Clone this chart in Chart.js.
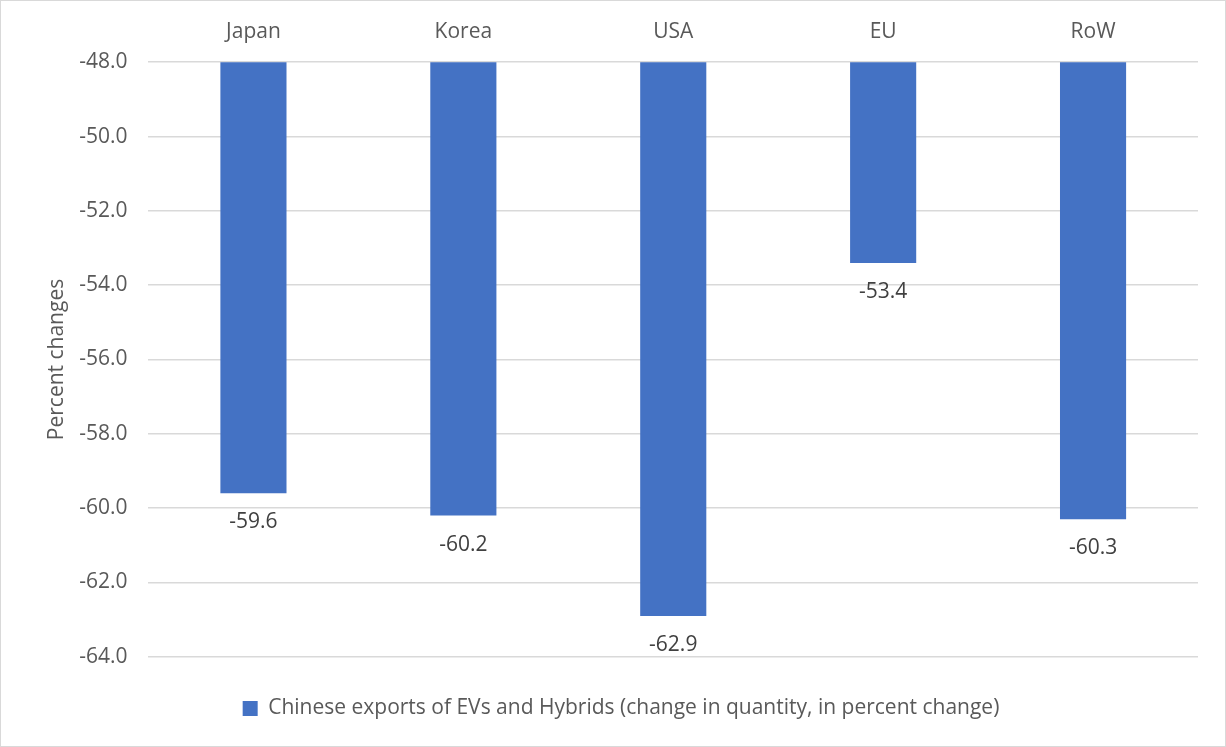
<!DOCTYPE html>
<html>
<head>
<meta charset="utf-8">
<script src="https://cdn.jsdelivr.net/npm/chart.js@4/dist/chart.umd.min.js"></script>
<style>
  body { margin: 0; background: #fff; }
  #wrap { width: 1226px; height: 747px; box-sizing: border-box; border: 1px solid #d9d9d9; }
</style>
</head>
<body>
<div id="wrap"><canvas id="chart" width="1224" height="745"></canvas></div>
<script>
var regions = ["Japan", "Korea", "USA", "EU", "RoW"]
var exportChange = [-59.6, -60.2, -62.9, -53.4, -60.3]
var seriesName = "Chinese exports of EVs and Hybrids (change in quantity, in percent change)"
var yMin = -64, yMax = -48, yStep = 2

var fontName = "'Open Sans', 'Noto Sans', sans-serif"
var fontSize = 21

// value labels under the end of each bar
var barLabels = {
  id: "barLabels",
  afterDatasetsDraw: function(chart) {
    var ctx = chart.ctx
    var meta = chart.getDatasetMeta(0)
    ctx.save()
    ctx.font = fontSize + "px " + fontName
    ctx.fillStyle = "#404040"
    ctx.textAlign = "center"
    ctx.textBaseline = "middle"
    meta.data.forEach(function(bar, i) {
      ctx.fillText(exportChange[i].toFixed(1), bar.x, bar.y + 29)
    })
    ctx.restore()
  }
}

new Chart(document.getElementById("chart"), {
  type: "bar",
  data: {
    labels: regions,
    datasets: [{
      label: seriesName,
      data: exportChange,
      backgroundColor: "#4472C4",
      categoryPercentage: 1,
      barPercentage: 0.315
    }]
  },
  options: {
    responsive: false,
    animation: false,
    layout: { padding: { left: 43, right: 27, top: 8, bottom: 17 } },
    plugins: {
      legend: {
        position: "bottom",
        title: { display: true, text: "", font: { size: 1 }, padding: { top: 20, bottom: 0 } },
        labels: {
          font: { size: fontSize, family: fontName },
          color: "#595959",
          boxWidth: 15,
          boxHeight: 15,
          padding: 20
        }
      },
      tooltip: { enabled: false }
    },
    scales: {
      x: {
        position: "top",
        grid: { display: false },
        border: { display: false },
        ticks: { font: { size: fontSize, family: fontName }, color: "#595959", padding: 10 }
      },
      y: {
        min: yMin,
        max: yMax,
        border: { display: false },
        grid: { color: "#d9d9d9", lineWidth: 1.5, drawTicks: false },
        ticks: {
          stepSize: yStep,
          font: { size: fontSize, family: fontName },
          color: "#595959",
          padding: 21,
          callback: function(v) { return v.toFixed(1) }
        },
        title: {
          display: true,
          text: "Percent changes",
          font: { size: fontSize, family: fontName },
          color: "#595959",
          padding: { top: 0, bottom: -11 }
        }
      }
    }
  },
  plugins: [barLabels]
})
</script>
</body>
</html>
